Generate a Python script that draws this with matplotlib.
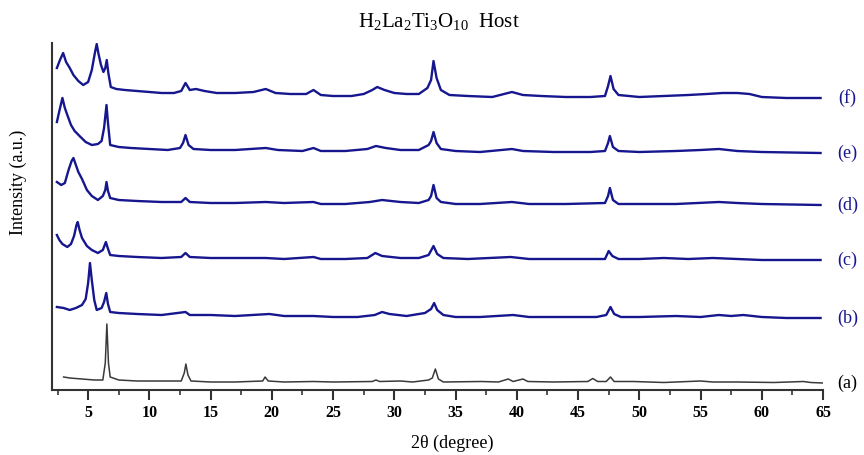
import matplotlib
matplotlib.use('Agg')
from matplotlib import pyplot as plt
from matplotlib.ticker import MultipleLocator

# (2theta, intensity above own baseline), arbitrary units
trace_a = [(3.0, 6), (3.5, 5), (4.5, 4), (5.5, 3), (6.2, 3), (6.4, 20), (6.53, 59), (6.66, 20), (6.8, 6), (7.5, 3),
           (9, 2), (11, 2), (12.6, 2), (12.85, 10), (12.98, 19), (13.15, 8), (13.4, 2), (15, 1), (17, 1),
           (19.25, 2), (19.45, 6), (19.7, 2), (21, 1), (23.4, 1.5), (25, 1), (28.2, 1.5), (28.5, 3), (28.8, 1.5),
           (30.5, 2), (31.5, 1), (32.8, 3), (33.1, 5), (33.35, 14), (33.6, 4), (34, 1), (37.1, 1.5), (38.5, 1),
           (39.3, 4), (39.7, 1.5), (40.5, 4), (40.9, 1.5), (43, 1), (45.8, 1.5), (46.2, 4.5), (46.6, 1.5),
           (47.3, 1.5), (47.65, 6), (47.95, 1.5), (49.5, 1.5), (52, 0.5), (55, 2), (56, 1), (58, 1), (61, 0.5),
           (63.4, 1.5), (64, 0.5), (65, 0)]
trace_b = [(2.45, 11), (3.0, 10), (3.5, 8), (4.0, 10), (4.5, 13), (4.8, 19), (5.0, 35), (5.15, 55), (5.3, 38),
           (5.5, 18), (5.7, 8), (6.1, 10), (6.3, 16), (6.48, 25), (6.62, 14), (6.8, 6), (7.5, 5), (9, 4), (11, 3),
           (12.95, 6), (13.3, 3), (15, 3), (17, 2), (19.8, 4), (21, 2), (23.4, 2), (25, 1), (27, 1), (28.4, 3),
           (29.0, 6), (29.6, 4), (31, 2), (32.5, 5), (33.0, 9), (33.25, 15), (33.5, 8), (34, 3), (35, 1), (37, 1),
           (39.7, 3), (41, 1), (44, 1), (46.5, 1), (47.3, 3), (47.65, 11), (47.95, 4), (48.5, 1), (50, 1), (53, 2),
           (55, 1), (56.5, 3), (57.5, 2), (58.5, 3), (60, 1), (62, 0), (64.8, 0)]
trace_c = [(2.45, 25), (2.65, 20), (2.9, 16), (3.3, 13), (3.6, 16), (3.85, 24), (4.05, 35), (4.15, 38), (4.3, 30),
           (4.5, 22), (4.9, 14), (5.3, 10), (5.8, 7), (6.2, 10), (6.45, 18), (6.6, 12), (6.8, 5), (7.5, 4), (9, 3),
           (11, 2), (12.6, 3), (12.95, 7), (13.3, 3), (15, 2), (18, 2), (19.5, 2), (21, 1), (23.4, 3), (24, 1),
           (26, 1), (27.8, 2), (28.45, 7), (29, 4), (30.5, 2), (32, 2), (32.8, 5), (33.2, 14), (33.5, 6), (34, 2),
           (36, 1), (39.5, 3), (41, 1), (44, 1), (47.2, 1), (47.5, 9), (47.8, 4), (48.3, 1), (50, 1), (52, 2),
           (54, 1), (56, 2), (58, 1), (60, 0), (64.8, 0)]
trace_d = [(2.45, 23), (2.8, 20), (3.1, 22), (3.4, 35), (3.65, 44), (3.8, 47), (4.0, 40), (4.2, 33), (4.5, 26),
           (4.9, 15), (5.3, 9), (5.8, 5), (6.2, 9), (6.4, 15), (6.5, 23), (6.62, 14), (6.8, 7), (7.5, 5), (9, 4),
           (11, 3), (12.6, 3), (12.95, 7), (13.3, 3), (15, 2), (17, 2), (19.5, 3), (21, 2), (23.4, 3), (24, 1),
           (26, 1), (28, 3), (29, 5), (30.5, 3), (32, 2), (32.8, 5), (33.0, 9), (33.2, 20), (33.45, 7), (33.8, 3),
           (35, 1), (37, 1), (39.6, 3), (41, 1), (44, 1), (47.2, 2), (47.45, 9), (47.6, 17), (47.85, 5), (48.3, 1),
           (50, 1), (53, 1), (56.5, 3), (58, 2), (60, 1), (64.8, 0)]
trace_e = [(2.45, 31), (2.65, 42), (2.9, 55), (3.1, 45), (3.3, 38), (3.6, 28), (3.9, 22), (4.3, 17), (4.8, 11),
           (5.3, 8), (5.8, 9), (6.1, 12), (6.3, 25), (6.5, 48), (6.62, 30), (6.8, 8), (7.5, 6), (8.5, 5), (10, 4),
           (11.5, 3), (12.5, 5), (12.75, 10), (12.95, 18), (13.2, 8), (13.6, 4), (15, 3), (17, 3), (19.5, 5),
           (20.5, 3), (22.5, 2), (23.4, 5), (24, 2), (26, 2), (27.8, 4), (28.5, 7), (29.3, 5), (30.5, 3), (32, 3),
           (32.8, 8), (33.0, 12), (33.2, 21), (33.45, 10), (33.8, 4), (35, 2), (37, 1), (39.6, 4), (40.5, 2),
           (43, 1), (46, 1), (47.2, 2), (47.45, 10), (47.6, 17), (47.85, 6), (48.3, 2), (50, 1), (53, 2), (55, 3),
           (56.5, 4), (58, 2), (60, 1), (64.8, 0)]
trace_f = [(2.45, 30), (2.7, 38), (2.96, 45), (3.2, 36), (3.5, 30), (3.8, 23), (4.2, 17), (4.6, 13), (5.0, 16),
           (5.3, 28), (5.55, 45), (5.7, 54), (5.85, 44), (6.05, 33), (6.25, 26), (6.4, 30), (6.52, 38), (6.65, 25),
           (6.85, 11), (7.3, 9), (8, 8), (9, 7), (10, 6), (11, 5), (12, 5), (12.6, 7), (12.95, 15), (13.3, 8),
           (13.8, 9), (14.5, 7), (15.5, 5), (17, 5), (18.5, 6), (19.5, 9), (20.3, 5), (21.5, 4), (22.8, 4),
           (23.4, 8), (24, 3), (25, 2), (26.5, 2), (27.5, 4), (28.2, 8), (28.6, 11), (29.2, 8), (30, 5), (31, 4),
           (32, 4), (32.7, 10), (33.0, 18), (33.2, 37), (33.45, 20), (33.8, 8), (34.5, 3), (36, 2), (38, 1),
           (39.6, 6), (40.5, 3), (42, 2), (44, 1), (46, 1), (47.2, 2), (47.45, 12), (47.65, 22), (47.9, 9),
           (48.3, 3), (50, 1), (52, 2), (54, 3), (55.5, 4), (56.8, 5), (58, 5), (59, 4), (60, 1), (62, 0),
           (64.8, 0)]

traces = [trace_a, trace_b, trace_c, trace_d, trace_e, trace_f]
labels = ['(a)', '(b)', '(c)', '(d)', '(e)', '(f)']
offsets = [7, 72, 130, 185, 237, 292]

blue = '#16168f'

plt.rcParams['font.family'] = ['Liberation Serif', 'DejaVu Serif']
plt.rcParams['mathtext.fontset'] = 'custom'
plt.rcParams['mathtext.rm'] = 'Liberation Serif'
plt.rcParams['mathtext.it'] = 'Liberation Serif:italic'

fig = plt.figure(figsize=(8.64, 4.55), dpi=100)
ax = fig.add_axes([52 / 864., 1 - 390 / 455., (823 - 52) / 864., (390 - 43) / 455.])

for idx in range(len(traces)):
  x = [p[0] for p in traces[idx]]
  y = [p[1] + offsets[idx] for p in traces[idx]]
  if idx == 0:
    ax.plot(x, y, color='#3a3a3a', lw=1.1)
    col = 'black'
  else:
    ax.plot(x, y, color=blue, lw=1.7)
    col = blue
  ax.text(67.0, offsets[idx], labels[idx], color=col, fontsize=13, ha='center', va='center',
          clip_on=False)

ax.set_xlim(2.05, 65)
ax.set_ylim(0, 347)
ax.xaxis.set_minor_locator(MultipleLocator(2.5))
ax.set_xticks([5, 10, 15, 20, 25, 30, 35, 40, 45, 50, 55, 60, 65])
ax.set_yticks([])
for s in ['top', 'right']:
  ax.spines[s].set_visible(False)
for s in ['left', 'bottom']:
  ax.spines[s].set_linewidth(1.5)
  ax.spines[s].set_color('#333333')
ax.tick_params(axis='x', which='major', length=7, width=1.5, direction='out', labelsize=11.5, pad=4,
               color='#333333')
ax.tick_params(axis='x', which='minor', length=3.5, width=1.2, direction='out', color='#333333')
for lab in ax.get_xticklabels():
  lab.set_fontweight('bold')

fig.text(0.508, 1 - 22 / 455., r'H$_2$La$_2$Ti$_3$O$_{10}$  Host', fontsize=15, ha='center', va='center')
fig.text(18 / 864., 1 - 182 / 455., 'Intensity (a.u.)', fontsize=13, rotation=90, ha='center', va='center')
fig.text(452 / 864., 1 - 443 / 455., u'2\u03b8 (degree)', fontsize=13, ha='center', va='center')

plt.savefig('out.png', dpi=100)
